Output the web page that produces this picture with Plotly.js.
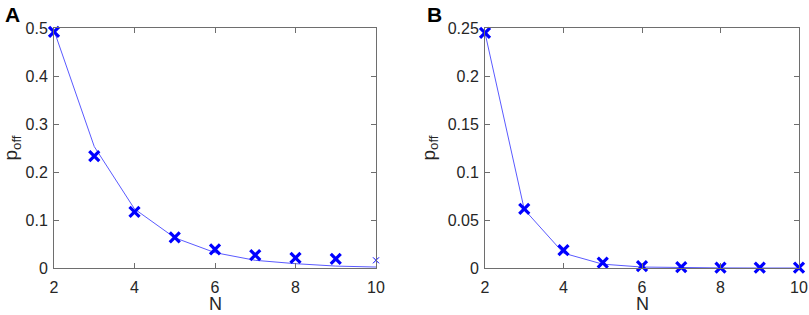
<!DOCTYPE html>
<html>
<head>
<meta charset="utf-8">
<script src="https://cdn.plot.ly/plotly-3.0.1.min.js"></script>
<style>html,body{margin:0;padding:0;background:#fff}#chart{width:809px;height:315px}</style>
</head>
<body>
<div id="chart"></div>
<script>
const N = [2, 3, 4, 5, 6, 7, 8, 9, 10];
// Panel A
const simA = [0.492, 0.233, 0.117, 0.064, 0.039, 0.027, 0.021, 0.019, 0.016];
const theoryA = [0.495, 0.253, 0.123, 0.063, 0.032, 0.016, 0.009, 0.004, 0.002];
// Panel B
const simB = [0.245, 0.0615, 0.0185, 0.0055, 0.002, 0.0008, 0.0004, 0.0004, 0.0004];
const theoryB = [0.245, 0.061, 0.0155, 0.004, 0.001, 0.0003, 0.0001, 0.0, 0.0];
const yTicksA = [0, 0.1, 0.2, 0.3, 0.4, 0.5];
const yTicksB = [0, 0.05, 0.1, 0.15, 0.2, 0.25];
const yTickTextB = ['0', '0.05', '0.1', '0.15', '0.2', '0.25'];
const xTicks = [2, 4, 6, 8, 10];
const xTitle = 'N';
const yTitle = 'p<sub>off</sub>';

const markerColor = '#0000ff';
const lineColor = '#5a5aff';
const fam = 'Liberation Sans, Arial, sans-serif';
const font = {family: fam, size: 16, color: '#262626'};
const titleFont = {family: fam, size: 19, color: '#262626'};
const xTitleFont = {family: fam, size: 18, color: '#262626'};

const bigX = {symbol: 'x-thin', size: 10, color: markerColor, line: {color: markerColor, width: 3.2}};
const smallX = {symbol: 'x-thin', size: 6, color: markerColor, line: {color: markerColor, width: 1}};

const traces = [
  {x: N, y: theoryA, xaxis: 'x', yaxis: 'y', mode: 'lines', line: {color: lineColor, width: 1}},
  {x: N.slice(0, -1), y: simA.slice(0, -1), xaxis: 'x', yaxis: 'y', mode: 'markers', cliponaxis: false, marker: bigX},
  {x: N.slice(-1), y: simA.slice(-1), xaxis: 'x', yaxis: 'y', mode: 'markers', cliponaxis: false, marker: smallX},
  {x: N, y: theoryB, xaxis: 'x2', yaxis: 'y2', mode: 'lines', line: {color: lineColor, width: 1}},
  {x: N, y: simB, xaxis: 'x2', yaxis: 'y2', mode: 'markers', cliponaxis: false, marker: bigX}
];

const axisCommon = {
  showline: true, linecolor: '#6e6e6e', linewidth: 1, mirror: 'ticks',
  ticks: 'inside', ticklen: 5, tickcolor: '#6e6e6e', tickwidth: 1,
  showgrid: false, zeroline: false, tickfont: font
};

const domA = [54/809, 376/809];
const domB = [485/809, 799/809];
const yDomain = [47/315, 287/315];
const layout = {
  width: 809, height: 315,
  margin: {l: 0, r: 0, t: 0, b: 0},
  paper_bgcolor: '#fff', plot_bgcolor: '#fff',
  showlegend: false, font: font,
  xaxis: Object.assign({}, axisCommon, {domain: domA, range: [2, 10], tickvals: xTicks, anchor: 'y', ticklabelstandoff: 5}),
  yaxis: Object.assign({}, axisCommon, {domain: yDomain, range: [0, 0.5], tickvals: yTicksA, anchor: 'x',
    ticklabelstandoff: 2, title: {text: yTitle, font: titleFont, standoff: 7}}),
  xaxis2: Object.assign({}, axisCommon, {domain: domB, range: [2, 10], tickvals: xTicks, anchor: 'y2', ticklabelstandoff: 5}),
  yaxis2: Object.assign({}, axisCommon, {domain: yDomain, range: [0, 0.25], tickvals: yTicksB, ticktext: yTickTextB, anchor: 'x2',
    ticklabelstandoff: 2, title: {text: yTitle, font: titleFont, standoff: 7}}),
  annotations: [
    {text: '<b>A</b>', x: 3/809, y: 1 - 1/315, xref: 'paper', yref: 'paper', xanchor: 'left', yanchor: 'top', showarrow: false,
     font: {family: fam, size: 21, color: '#000'}},
    {text: '<b>B</b>', x: 425/809, y: 1 - 1/315, xref: 'paper', yref: 'paper', xanchor: 'left', yanchor: 'top', showarrow: false,
     font: {family: fam, size: 21, color: '#000'}},
    {text: xTitle, x: (domA[0] + domA[1]) / 2, y: 0, xref: 'paper', yref: 'paper', xanchor: 'center', yanchor: 'bottom',
     showarrow: false, borderpad: 0, font: xTitleFont},
    {text: xTitle, x: (domB[0] + domB[1]) / 2, y: 0, xref: 'paper', yref: 'paper', xanchor: 'center', yanchor: 'bottom',
     showarrow: false, borderpad: 0, font: xTitleFont}
  ]
};

Plotly.newPlot('chart', traces, layout, {displayModeBar: false, staticPlot: true});
</script>
</body>
</html>
